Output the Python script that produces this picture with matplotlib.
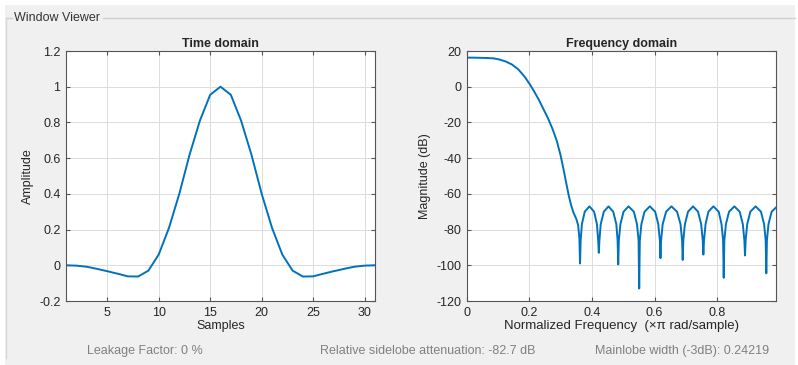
import matplotlib
matplotlib.use("Agg")
import matplotlib.pyplot as plt
from matplotlib.lines import Line2D
from matplotlib.patches import Rectangle

# time domain window samples (31 points)
samples = list(range(1, 32))
amplitude = [0.000, -0.002, -0.008, -0.020, -0.033, -0.047, -0.062, -0.063,
             -0.030, 0.060, 0.210, 0.400, 0.620, 0.810, 0.955, 1.000,
             0.955, 0.810, 0.620, 0.400, 0.210, 0.060, -0.030, -0.063,
             -0.062, -0.047, -0.033, -0.020, -0.008, -0.002, 0.000]

# frequency response (normalized freq, dB)
freq = [0.000, 0.030, 0.060, 0.085, 0.105, 0.125, 0.145, 0.165, 0.185, 0.200,
        0.215, 0.230, 0.245, 0.260, 0.275, 0.288, 0.300, 0.309, 0.318, 0.326,
        0.333, 0.341, 0.350, 0.356, 0.360, 0.362,
        0.364, 0.368, 0.377, 0.392, 0.407, 0.416, 0.420, 0.422,
        0.424, 0.428, 0.438, 0.453, 0.468, 0.478, 0.482, 0.484,
        0.486, 0.491, 0.501, 0.517, 0.534, 0.544, 0.549, 0.551,
        0.553, 0.558, 0.568, 0.585, 0.602, 0.612, 0.617, 0.619,
        0.621, 0.626, 0.637, 0.654, 0.672, 0.683, 0.688, 0.690,
        0.692, 0.697, 0.707, 0.723, 0.739, 0.749, 0.754, 0.756,
        0.758, 0.763, 0.772, 0.788, 0.805, 0.814, 0.819, 0.821,
        0.823, 0.828, 0.838, 0.855, 0.872, 0.882, 0.887, 0.889,
        0.891, 0.896, 0.906, 0.923, 0.940, 0.950, 0.955, 0.957,
        0.959, 0.964, 0.974, 0.990]
magnitude = [16.3, 16.25, 16.1, 15.9, 15.2, 14.1, 12.4, 9.7, 5.6, 1.8,
             -2.5, -7.2, -12.5, -17.8, -24.0, -30.5, -38.5, -46.0, -54.0, -61.0,
             -66.0, -70.5, -74.0, -77.5, -85.0, -99.0,
             -86, -77, -70, -67, -70, -77, -86, -93.0,
             -86, -77, -70, -67, -70, -77, -86, -99.5,
             -86, -77, -70, -67, -70, -77, -86, -113.0,
             -86, -77, -70, -67, -70, -77, -86, -96.0,
             -86, -77, -70, -67, -70, -77, -86, -97.0,
             -86, -77, -70, -67, -70, -77, -86, -94.0,
             -86, -77, -70, -67, -70, -77, -86, -107.0,
             -86, -77, -70, -67, -70, -77, -86, -94.5,
             -86, -77, -70, -67, -70, -77, -86, -104.5,
             -86, -77, -70, -67.3]

time_xticks = [5, 10, 15, 20, 25, 30]
time_yticks = [-0.2, 0, 0.2, 0.4, 0.6, 0.8, 1, 1.2]
time_yticklabels = ["-0.2", "0", "0.2", "0.4", "0.6", "0.8", "1", "1.2"]
freq_xticks = [0, 0.2, 0.4, 0.6, 0.8]
freq_xticklabels = ["0", "0.2", "0.4", "0.6", "0.8"]
freq_yticks = [-120, -100, -80, -60, -40, -20, 0, 20]

info = ["Leakage Factor: 0 %",
        "Relative sidelobe attenuation: -82.7 dB",
        "Mainlobe width (-3dB): 0.24219"]

W, H = 798, 365
bg = "#f0f0f0"
line_col = "#0072BD"
txt_col = "#262626"
fs = 9

plt.rcParams["font.family"] = ["Liberation Sans", "DejaVu Sans"]
plt.rcParams["axes.unicode_minus"] = False

fig = plt.figure(figsize=(W / 100, H / 100), dpi=100, facecolor="white")

# gray panel background
fig.add_artist(Rectangle((5 / W, 0), 790 / W, 1 - 5 / H, transform=fig.transFigure,
                         facecolor=bg, edgecolor="none", zorder=-10))
# panel frame
fig.add_artist(Line2D([6 / W, 12 / W], [1 - 18 / H, 1 - 18 / H],
                      transform=fig.transFigure, color="#d0d0d0", lw=1))
fig.add_artist(Line2D([103 / W, 795 / W], [1 - 18 / H, 1 - 18 / H],
                      transform=fig.transFigure, color="#d0d0d0", lw=1))
fig.add_artist(Line2D([6 / W, 6 / W], [1 - 18 / H, 1 - 358 / H],
                      transform=fig.transFigure, color="#d8d8d8", lw=1))
fig.text(14 / W, 1 - 18 / H, "Window Viewer", fontsize=fs, color="#333333",
         va="center", ha="left")


def style_axes(ax):
    ax.set_facecolor("white")
    ax.grid(True, color="#dcdcdc", lw=0.7)
    ax.set_axisbelow(True)
    for s in ax.spines.values():
        s.set_color("#555555")
        s.set_linewidth(0.8)
    ax.tick_params(direction="in", top=True, right=True, length=3,
                   colors="#555555", labelcolor=txt_col, labelsize=fs, pad=4)


ax1 = fig.add_axes([66 / W, 1 - 301 / H, 309 / W, 250 / H])
ax1.plot(samples, amplitude, color=line_col, lw=1.4)
ax1.set_xlim(1, 31)
ax1.set_ylim(-0.2, 1.2)
ax1.set_xticks(time_xticks)
ax1.set_yticks(time_yticks)
ax1.set_yticklabels(time_yticklabels)
style_axes(ax1)
ax1.set_title("Time domain", fontsize=fs, fontweight="bold", color=txt_col, pad=3)
ax1.set_xlabel("Samples", fontsize=fs, color=txt_col, labelpad=1)
ax1.set_ylabel("Amplitude", fontsize=fs, color=txt_col, labelpad=4)

ax2 = fig.add_axes([466.7 / W, 1 - 301 / H, 309.3 / W, 250 / H])
ax2.plot(freq, magnitude, color=line_col, lw=1.4)
ax2.set_xlim(0, 0.988)
ax2.set_ylim(-120, 20)
ax2.set_xticks(freq_xticks)
ax2.set_xticklabels(freq_xticklabels)
ax2.set_yticks(freq_yticks)
style_axes(ax2)
ax2.set_title("Frequency domain", fontsize=fs, fontweight="bold", color=txt_col, pad=3)
ax2.set_xlabel("Normalized Frequency  (\u00d7\u03c0 rad/sample)", fontsize=9.5,
               color=txt_col, labelpad=1)
ax2.set_ylabel("Magnitude (dB)", fontsize=fs, color=txt_col, labelpad=4)

for x, s in zip([145, 428, 682], info):
    fig.text(x / W, 1 - 351 / H, s, fontsize=fs, color="#808080",
             ha="center", va="center")

fig.savefig("out.png", dpi=100, facecolor=fig.get_facecolor())
